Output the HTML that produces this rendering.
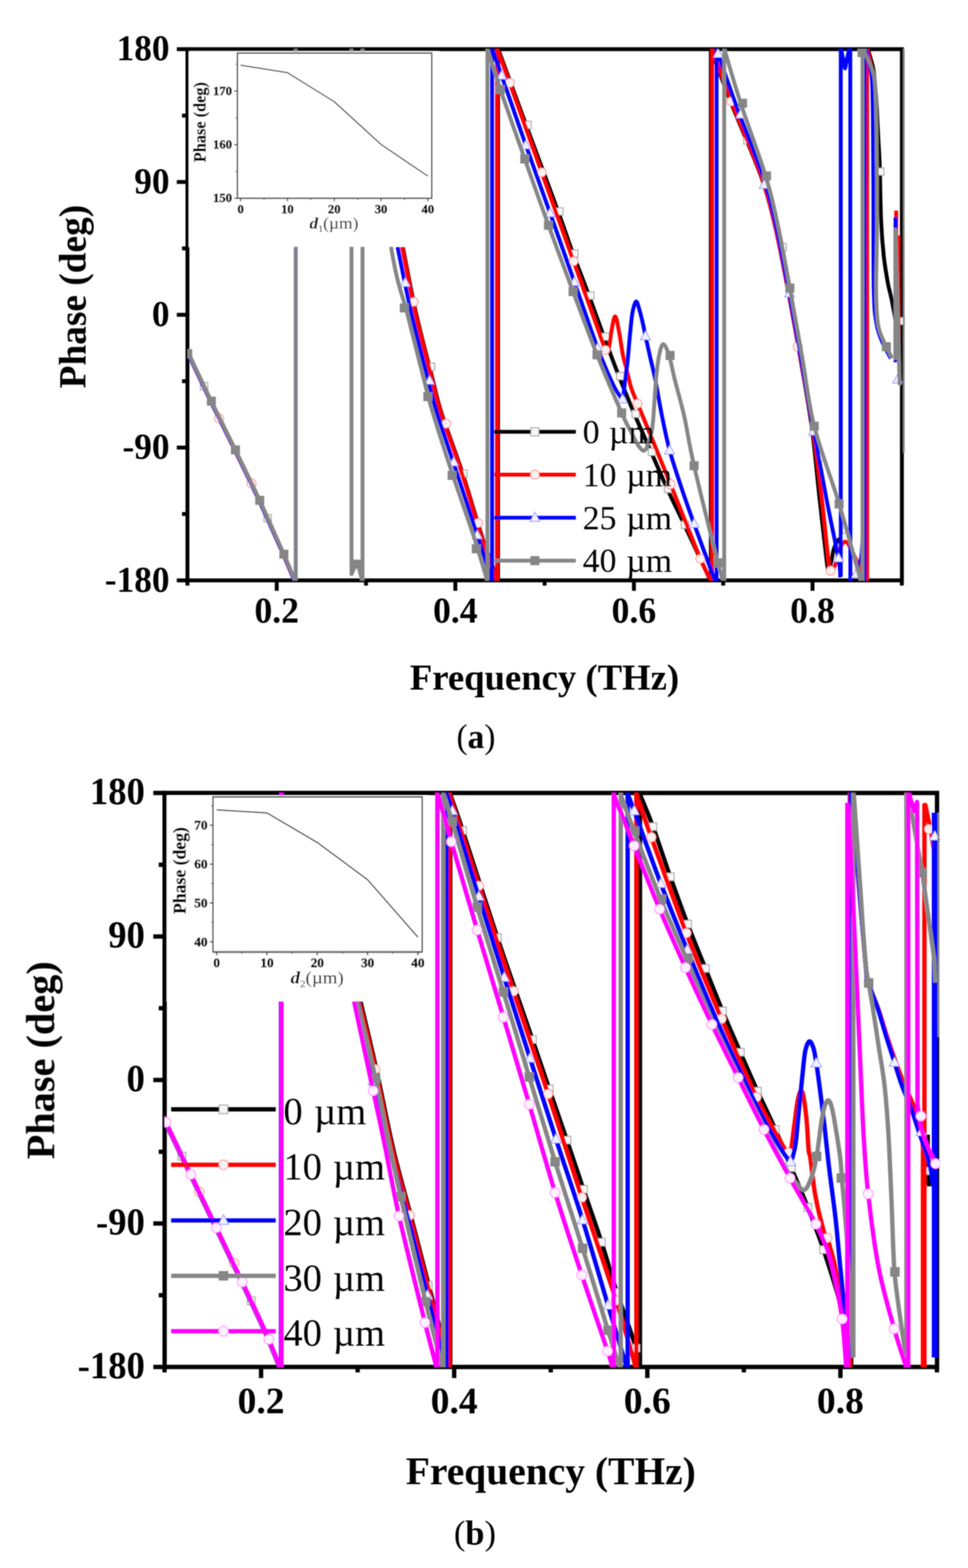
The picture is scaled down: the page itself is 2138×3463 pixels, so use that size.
<!DOCTYPE html>
<html lang="en"><head><meta charset="utf-8"><title>Phase vs Frequency</title>
<style>
html,body{margin:0;padding:0;background:#fff;}
body{width:2138px;height:3463px;overflow:hidden;}
svg{display:block;}
text{font-family:"Liberation Serif",serif;fill:#000;}
.b{font-weight:bold;}
.i{font-style:italic;}
</style></head><body>
<svg width="2138" height="3463" viewBox="0 0 2138 3463">
<defs><filter id="soft" x="0" y="0" width="2138" height="3463" filterUnits="userSpaceOnUse"><feGaussianBlur stdDeviation="0.85"/></filter></defs>
<rect width="2138" height="3463" fill="#fff"/>
<g filter="url(#soft)">
<g id="chartA">
<rect x="414.0" y="108.6" width="1578.0" height="1173.2" fill="none" stroke="#000" stroke-width="8.6"/>
<line x1="390.5" y1="108.6" x2="414.0" y2="108.6" stroke="#000" stroke-width="8.6"/>
<line x1="390.5" y1="401.9" x2="414.0" y2="401.9" stroke="#000" stroke-width="8.6"/>
<line x1="390.5" y1="695.2" x2="414.0" y2="695.2" stroke="#000" stroke-width="8.6"/>
<line x1="390.5" y1="988.5" x2="414.0" y2="988.5" stroke="#000" stroke-width="8.6"/>
<line x1="390.5" y1="1281.8" x2="414.0" y2="1281.8" stroke="#000" stroke-width="8.6"/>
<line x1="402" y1="255.3" x2="414.0" y2="255.3" stroke="#000" stroke-width="8.6"/>
<line x1="402" y1="548.6" x2="414.0" y2="548.6" stroke="#000" stroke-width="8.6"/>
<line x1="402" y1="841.9" x2="414.0" y2="841.9" stroke="#000" stroke-width="8.6"/>
<line x1="402" y1="1135.2" x2="414.0" y2="1135.2" stroke="#000" stroke-width="8.6"/>
<line x1="611.2" y1="1281.8" x2="611.2" y2="1304.8" stroke="#000" stroke-width="8.6"/>
<line x1="1005.7" y1="1281.8" x2="1005.7" y2="1304.8" stroke="#000" stroke-width="8.6"/>
<line x1="1400.1" y1="1281.8" x2="1400.1" y2="1304.8" stroke="#000" stroke-width="8.6"/>
<line x1="1794.6" y1="1281.8" x2="1794.6" y2="1304.8" stroke="#000" stroke-width="8.6"/>
<line x1="414" y1="1281.8" x2="414" y2="1293.3" stroke="#000" stroke-width="8.6"/>
<line x1="808.4" y1="1281.8" x2="808.4" y2="1293.3" stroke="#000" stroke-width="8.6"/>
<line x1="1202.9" y1="1281.8" x2="1202.9" y2="1293.3" stroke="#000" stroke-width="8.6"/>
<line x1="1597.3" y1="1281.8" x2="1597.3" y2="1293.3" stroke="#000" stroke-width="8.6"/>
<line x1="1991.8" y1="1281.8" x2="1991.8" y2="1293.3" stroke="#000" stroke-width="8.6"/>
<clipPath id="clipA"><rect x="414.0" y="108.0" width="1585.0" height="1174.4"/></clipPath>
<g clip-path="url(#clipA)">
<path d="M413.2,775.6 C422,794.1 448.3,850.2 466,886.6 C483.7,923 501.4,957.7 519.2,994.2 C537,1030.7 555,1067.2 572.8,1105.6 C590.6,1144 613.2,1195.1 626.2,1224.6 C639.2,1254.1 646.6,1272.9 650.7,1282.6" fill="none" stroke="#000" stroke-width="8.6" stroke-linejoin="round" />
<path d="M889.5,545 C894.5,569.8 908.5,645.3 919.5,694 C930.5,742.7 946.3,801 955.5,837 C964.7,873 963.6,875.7 974.5,910 C985.4,944.3 1005.9,997 1021,1043 C1036.1,1089 1052,1146.2 1065,1186 C1078,1225.8 1093.3,1266 1099,1282" fill="none" stroke="#000" stroke-width="8.6" stroke-linejoin="round" />
<path d="M1100,1284.8 L1100,105.6" fill="none" stroke="#000" stroke-width="8.6" stroke-linejoin="round" />
<path d="M1100.5,108.5 C1110.8,136.4 1140,216.2 1162,276 C1184,335.8 1215.4,419.7 1232.7,467 C1250,514.3 1254.2,529 1265.6,560 C1277,591 1289.6,622.4 1301,653 C1312.4,683.6 1323,714 1334,743.6 C1345,773.2 1355.8,802.3 1367,830.7 C1378.2,859.1 1389.2,886.1 1401,914 C1412.8,941.9 1425.8,970.3 1438,998 C1450.2,1025.7 1461.8,1053.2 1474,1080 C1486.2,1106.8 1495.7,1125.3 1511.5,1159 C1527.3,1192.7 1559.4,1261.5 1569,1282" fill="none" stroke="#000" stroke-width="8.6" stroke-linejoin="round" />
<path d="M1570,1284.8 L1570,105.6" fill="none" stroke="#000" stroke-width="8.6" stroke-linejoin="round" />
<path d="M1570,108.5 C1577.5,128.4 1596.6,181.3 1615,228 C1633.4,274.7 1664.3,343.3 1680.5,388.6 C1696.7,433.9 1702.1,458.3 1712,500 C1721.9,541.7 1730.7,590.2 1740,639 C1749.3,687.8 1759.2,742.2 1768,793 C1776.8,843.8 1786,892.8 1793,944 C1800,995.2 1804.5,1050.7 1810,1100 C1815.5,1149.3 1822.7,1214 1826,1240 C1829.3,1266 1828.3,1256 1830,1256 C1831.7,1256 1834.2,1246.8 1836,1240 C1837.8,1233.2 1838.8,1222.3 1841,1215 C1843.2,1207.7 1846.2,1200.5 1849,1196 C1851.8,1191.5 1855,1189.7 1858,1188 C1861,1186.3 1862,1178.7 1867,1186 C1872,1193.3 1880.2,1216 1888,1232 C1895.8,1248 1909.7,1273.7 1914,1282" fill="none" stroke="#000" stroke-width="8.6" stroke-linejoin="round" />
<path d="M1916.7,108 C1918.7,115.2 1925.9,137.2 1928.6,151 C1931.3,164.8 1931.7,176.4 1933,191 C1934.3,205.6 1935.4,220.2 1936.5,238.7 C1937.6,257.2 1938.6,280.8 1939.7,302 C1940.8,323.2 1942,334.9 1943,365.7 C1944,396.5 1944.5,453.6 1946,487 C1947.5,520.4 1949.5,543 1952,566 C1954.5,589 1958.2,609.3 1961,625 C1963.8,640.7 1965.8,644.2 1969,660 C1972.2,675.8 1976.3,696.7 1980,720 C1983.7,743.3 1989.2,786.7 1991,800" fill="none" stroke="#000" stroke-width="8.6" stroke-linejoin="round" />
<rect x="442.6" y="844.9" width="16.2" height="16.2" fill="#f6f6f6" stroke="#888" stroke-width="2" stroke-opacity="0.8"/>
<rect x="582.9" y="1136.5" width="16.2" height="16.2" fill="#f6f6f6" stroke="#888" stroke-width="2" stroke-opacity="0.8"/>
<rect x="943.9" y="801.9" width="16.2" height="16.2" fill="#f6f6f6" stroke="#888" stroke-width="2" stroke-opacity="0.8"/>
<rect x="1015.5" y="1037.9" width="16.2" height="16.2" fill="#f6f6f6" stroke="#888" stroke-width="2" stroke-opacity="0.8"/>
<rect x="1156.9" y="267.9" width="16.2" height="16.2" fill="#f6f6f6" stroke="#888" stroke-width="2" stroke-opacity="0.8"/>
<rect x="1227.6" y="458.9" width="16.2" height="16.2" fill="#f6f6f6" stroke="#888" stroke-width="2" stroke-opacity="0.8"/>
<rect x="1260.5" y="551.9" width="16.2" height="16.2" fill="#f6f6f6" stroke="#888" stroke-width="2" stroke-opacity="0.8"/>
<rect x="1295.9" y="644.9" width="16.2" height="16.2" fill="#f6f6f6" stroke="#888" stroke-width="2" stroke-opacity="0.8"/>
<rect x="1328.9" y="735.5" width="16.2" height="16.2" fill="#f6f6f6" stroke="#888" stroke-width="2" stroke-opacity="0.8"/>
<rect x="1361.9" y="822.6" width="16.2" height="16.2" fill="#f6f6f6" stroke="#888" stroke-width="2" stroke-opacity="0.8"/>
<rect x="1395.9" y="905.9" width="16.2" height="16.2" fill="#f6f6f6" stroke="#888" stroke-width="2" stroke-opacity="0.8"/>
<rect x="1431.9" y="989.9" width="16.2" height="16.2" fill="#f6f6f6" stroke="#888" stroke-width="2" stroke-opacity="0.8"/>
<rect x="1467.6" y="1071.9" width="16.2" height="16.2" fill="#f6f6f6" stroke="#888" stroke-width="2" stroke-opacity="0.8"/>
<rect x="1504.9" y="1150.9" width="16.2" height="16.2" fill="#f6f6f6" stroke="#888" stroke-width="2" stroke-opacity="0.8"/>
<rect x="1642.6" y="301.9" width="16.2" height="16.2" fill="#f6f6f6" stroke="#888" stroke-width="2" stroke-opacity="0.8"/>
<rect x="1720.5" y="537.9" width="16.2" height="16.2" fill="#f6f6f6" stroke="#888" stroke-width="2" stroke-opacity="0.8"/>
<rect x="1803.9" y="1001.9" width="16.2" height="16.2" fill="#f6f6f6" stroke="#888" stroke-width="2" stroke-opacity="0.8"/>
<rect x="1858.9" y="1177.9" width="16.2" height="16.2" fill="#f6f6f6" stroke="#888" stroke-width="2" stroke-opacity="0.8"/>
<rect x="1935.9" y="370.9" width="16.2" height="16.2" fill="#f6f6f6" stroke="#888" stroke-width="2" stroke-opacity="0.8"/>
<rect x="1983.4" y="700.9" width="16.2" height="16.2" fill="#f6f6f6" stroke="#888" stroke-width="2" stroke-opacity="0.8"/>
<path d="M412.4,775.4 C421.2,793.9 447.5,850 465.2,886.4 C482.9,922.8 500.6,957.5 518.4,994 C536.2,1030.5 554.2,1067 572,1105.4 C589.8,1143.8 612.4,1194.9 625.4,1224.4 C638.4,1253.9 645.8,1272.7 649.9,1282.4" fill="none" stroke="#ff0000" stroke-width="8.6" stroke-linejoin="round" />
<path d="M888,545 C893,569.8 907,645.3 918,694 C929,742.7 944.8,801 954,837 C963.2,873 962.1,875.7 973,910 C983.9,944.3 1004.4,997 1019.5,1043 C1034.6,1089 1050.6,1146.2 1063.5,1186 C1076.4,1225.8 1091.4,1266 1097,1282" fill="none" stroke="#ff0000" stroke-width="8.6" stroke-linejoin="round" />
<path d="M1097.7,1284.8 L1097.7,105.6" fill="none" stroke="#ff0000" stroke-width="8.6" stroke-linejoin="round" />
<path d="M1098,108.5 C1102.6,120.9 1109.3,137.6 1125.7,183 C1142.1,228.4 1172.9,315 1196.4,380.7 C1219.9,446.4 1246.2,519.6 1266.8,577 C1287.4,634.4 1308.3,692.7 1320,725 C1331.7,757.3 1333,763.2 1337,771 C1341,778.8 1341.7,778.8 1344,772 C1346.3,765.2 1348.3,742.2 1350.7,730 C1353.1,717.8 1355.9,698.6 1358.6,698.6 C1361.3,698.6 1363.9,715.8 1366.8,730 C1369.7,744.2 1373,769.9 1375.7,783.6 C1378.4,797.3 1380,800.1 1383,812 C1386,823.9 1389.4,841.8 1393.6,855 C1397.8,868.2 1403.3,879.7 1408,891.4 C1412.7,903.1 1409.8,895.3 1422,925 C1434.2,954.7 1460.2,1018.1 1481,1069.6 C1501.8,1121.1 1532,1198.6 1547,1234 C1562,1269.4 1567,1274 1571,1282" fill="none" stroke="#ff0000" stroke-width="8.6" stroke-linejoin="round" />
<path d="M1572.7,1284.8 L1572.7,105.6" fill="none" stroke="#ff0000" stroke-width="8.6" stroke-linejoin="round" />
<path d="M1573,108.5 C1580.3,128.4 1598.9,181.3 1617,228 C1635.1,274.7 1665.6,343.3 1681.5,388.6 C1697.4,433.9 1702.8,458.3 1712.6,500 C1722.4,541.7 1731.2,590.2 1740.5,639 C1749.8,687.8 1759.4,742.2 1768.5,793 C1777.6,843.8 1787.2,892.8 1795,944 C1802.8,995.2 1809,1049 1815,1100 C1821,1151 1827.7,1223 1831,1250 C1834.3,1277 1832.5,1263 1835,1262 C1837.5,1261 1842.5,1252.7 1846,1244 C1849.5,1235.3 1852.7,1218 1856,1210 C1859.3,1202 1862.7,1196.8 1866,1196 C1869.3,1195.2 1872.2,1199.2 1876,1205 C1879.8,1210.8 1882.1,1218.2 1888.6,1231 C1895.1,1243.8 1910.6,1273.5 1915,1282" fill="none" stroke="#ff0000" stroke-width="8.6" stroke-linejoin="round" />
<path d="M1916,1284.8 L1916,105.6" fill="none" stroke="#ff0000" stroke-width="6.9" stroke-linejoin="round" />
<path d="M1917,108 C1918.5,115 1923.7,134.7 1926,150 C1928.3,165.3 1929.8,175 1931,200 C1932.2,225 1932.5,250 1933,300 C1933.5,350 1933.8,443.3 1934,500 C1934.2,556.7 1934,616.7 1934,640" fill="none" stroke="#ff0000" stroke-width="5" stroke-linejoin="round" />
<path d="M1979.4,465 L1979.4,800" fill="none" stroke="#ff0000" stroke-width="8.6" stroke-linejoin="round" />
<path d="M1985.5,520 L1986.6,830" fill="none" stroke="#ff0000" stroke-width="5" stroke-linejoin="round" />
<circle cx="484" cy="924" r="10" fill="#fff0f0" stroke="#ff6060" stroke-width="1.5" stroke-opacity="0.9"/>
<circle cx="555.7" cy="1068" r="10" fill="#fff0f0" stroke="#ff6060" stroke-width="1.5" stroke-opacity="0.9"/>
<circle cx="913.6" cy="666.8" r="10" fill="#fff0f0" stroke="#ff6060" stroke-width="1.5" stroke-opacity="0.9"/>
<circle cx="985" cy="935.7" r="10" fill="#fff0f0" stroke="#ff6060" stroke-width="1.5" stroke-opacity="0.9"/>
<circle cx="1055.7" cy="1155" r="10" fill="#fff0f0" stroke="#ff6060" stroke-width="1.5" stroke-opacity="0.9"/>
<circle cx="1125.7" cy="183" r="10" fill="#fff0f0" stroke="#ff6060" stroke-width="1.5" stroke-opacity="0.9"/>
<circle cx="1196.4" cy="380.7" r="10" fill="#fff0f0" stroke="#ff6060" stroke-width="1.5" stroke-opacity="0.9"/>
<circle cx="1266.8" cy="577" r="10" fill="#fff0f0" stroke="#ff6060" stroke-width="1.5" stroke-opacity="0.9"/>
<circle cx="1337" cy="773" r="10" fill="#fff0f0" stroke="#ff6060" stroke-width="1.5" stroke-opacity="0.9"/>
<circle cx="1408" cy="891.4" r="10" fill="#fff0f0" stroke="#ff6060" stroke-width="1.5" stroke-opacity="0.9"/>
<circle cx="1481" cy="1069.6" r="10" fill="#fff0f0" stroke="#ff6060" stroke-width="1.5" stroke-opacity="0.9"/>
<circle cx="1547" cy="1234" r="10" fill="#fff0f0" stroke="#ff6060" stroke-width="1.5" stroke-opacity="0.9"/>
<circle cx="1615" cy="224" r="10" fill="#fff0f0" stroke="#ff6060" stroke-width="1.5" stroke-opacity="0.9"/>
<circle cx="1762" cy="765.7" r="10" fill="#fff0f0" stroke="#ff6060" stroke-width="1.5" stroke-opacity="0.9"/>
<circle cx="1834.6" cy="1260" r="10" fill="#fff0f0" stroke="#ff6060" stroke-width="1.5" stroke-opacity="0.9"/>
<path d="M413,775.8 C421.8,794.3 448.1,850.4 465.8,886.8 C483.5,923.2 501.2,957.9 519,994.4 C536.8,1030.9 554.8,1067.4 572.6,1105.8 C590.4,1144.2 613,1195.3 626,1224.8 C639,1254.3 646.4,1273.1 650.5,1282.8" fill="none" stroke="#0000ff" stroke-width="8.6" stroke-linejoin="round" />
<path d="M878,545 C883.2,569.8 897.8,645.3 909,694 C920.2,742.7 935.8,801 945,837 C954.2,873 953.9,875.7 964.5,910 C975.1,944.3 993.3,997 1008.5,1043 C1023.7,1089 1042.8,1146.2 1055.7,1186 C1068.6,1225.8 1081,1266 1086,1282" fill="none" stroke="#0000ff" stroke-width="8.6" stroke-linejoin="round" />
<path d="M1086.8,1284.8 L1086.8,105.6" fill="none" stroke="#0000ff" stroke-width="8.6" stroke-linejoin="round" />
<path d="M1087,108.5 C1090.5,118.2 1095.6,131.6 1108,167 C1120.4,202.4 1143.6,270.1 1161.4,320.7 C1179.2,371.3 1197.1,420.3 1215,470.7 C1232.9,521.1 1251.1,573.3 1268.6,623 C1286.1,672.7 1306.1,732 1320,769 C1333.9,806 1344,827.7 1352,845 C1360,862.3 1364,867.7 1368,873 C1372,878.3 1373.5,883 1375.7,877 C1377.9,871 1379.2,850.7 1381,837 C1382.8,823.3 1384.6,812 1386.4,795 C1388.2,778 1390,752.5 1391.8,735 C1393.6,717.5 1394.8,701.5 1397,690 C1399.2,678.5 1402.3,666.2 1405,665.7 C1407.7,665.2 1410.5,678.8 1413,687 C1415.5,695.2 1417.9,705.8 1420,715 C1422.1,724.2 1423,729.9 1425.7,742.5 C1428.4,755.1 1432.9,775 1436.4,790.7 C1440,806.5 1442.8,816.3 1447,837 C1451.2,857.7 1456.1,888.7 1461.4,915 C1466.7,941.3 1471.6,967.1 1479,994.6 C1486.4,1022.1 1497,1052.9 1506,1080 C1515,1107.1 1520.8,1123.3 1533,1157 C1545.2,1190.7 1571.3,1261.2 1579,1282" fill="none" stroke="#0000ff" stroke-width="8.6" stroke-linejoin="round" />
<path d="M1582.7,1284.8 L1582.7,105.6" fill="none" stroke="#0000ff" stroke-width="8.6" stroke-linejoin="round" />
<path d="M1583,108.5 C1589.8,128.4 1607,181.3 1624,228 C1641,274.7 1669.9,343.3 1685,388.6 C1700.1,433.9 1705.2,458.4 1714.6,500 C1724,541.6 1732.3,589.3 1741.5,638 C1750.7,686.7 1760.4,741.2 1769.5,792 C1778.6,842.8 1786.8,891.7 1796,943 C1805.2,994.3 1815.7,1051.3 1825,1100 C1834.3,1148.7 1846.8,1205.8 1852,1235 C1857.2,1264.2 1855.3,1268.3 1856,1275" fill="none" stroke="#0000ff" stroke-width="8.6" stroke-linejoin="round" />
<path d="M1857,1273 L1857,105.6 L1866.5,151 L1876,105.6 L1878,105.6 L1878.2,1284.8" fill="none" stroke="#0000ff" stroke-width="8.6" stroke-linejoin="round" stroke-linejoin="miter"/>
<path d="M1879,1282 C1879.8,1280 1881.6,1273.8 1884,1270 C1886.4,1266.2 1890.4,1270.7 1893.6,1259 C1896.8,1247.3 1900.3,1243.2 1903,1200 C1905.7,1156.8 1908.8,1033.3 1910,1000" fill="none" stroke="#0000ff" stroke-width="5" stroke-linejoin="round" />
<path d="M1911,1284.8 L1911,105.6" fill="none" stroke="#0000ff" stroke-width="5" stroke-linejoin="round" />
<path d="M1912,108 C1913.7,115 1919.5,134.7 1922,150 C1924.5,165.3 1925.8,158.3 1927,200 C1928.2,241.7 1928.5,326.7 1929,400 C1929.5,473.3 1928.8,587.5 1930,640 C1931.2,692.5 1932.8,695.7 1936,715 C1939.2,734.3 1943.7,743.2 1949,756 C1954.3,768.8 1964.8,786 1968,792" fill="none" stroke="#0000ff" stroke-width="8.6" stroke-linejoin="round" />
<path d="M1978,480 L1978,800" fill="none" stroke="#0000ff" stroke-width="8.6" stroke-linejoin="round" />
<path d="M895,612.5 L906,632.7 L884,632.7 Z" fill="#f0f0ff" stroke="#7070ff" stroke-width="1.5" stroke-opacity="0.9"/>
<path d="M948.6,828.6 L959.6,848.8 L937.6,848.8 Z" fill="#f0f0ff" stroke="#7070ff" stroke-width="1.5" stroke-opacity="0.9"/>
<path d="M1002,1008.9 L1013,1029.1 L991,1029.1 Z" fill="#f0f0ff" stroke="#7070ff" stroke-width="1.5" stroke-opacity="0.9"/>
<path d="M1054,1169.9 L1065,1190.1 L1043,1190.1 Z" fill="#f0f0ff" stroke="#7070ff" stroke-width="1.5" stroke-opacity="0.9"/>
<path d="M1108,154.9 L1119,175.1 L1097,175.1 Z" fill="#f0f0ff" stroke="#7070ff" stroke-width="1.5" stroke-opacity="0.9"/>
<path d="M1161.4,308.6 L1172.4,328.8 L1150.4,328.8 Z" fill="#f0f0ff" stroke="#7070ff" stroke-width="1.5" stroke-opacity="0.9"/>
<path d="M1215,458.6 L1226,478.8 L1204,478.8 Z" fill="#f0f0ff" stroke="#7070ff" stroke-width="1.5" stroke-opacity="0.9"/>
<path d="M1268.6,610.9 L1279.6,631.1 L1257.6,631.1 Z" fill="#f0f0ff" stroke="#7070ff" stroke-width="1.5" stroke-opacity="0.9"/>
<path d="M1320,756.9 L1331,777.1 L1309,777.1 Z" fill="#f0f0ff" stroke="#7070ff" stroke-width="1.5" stroke-opacity="0.9"/>
<path d="M1375,869.9 L1386,890.1 L1364,890.1 Z" fill="#f0f0ff" stroke="#7070ff" stroke-width="1.5" stroke-opacity="0.9"/>
<path d="M1425.7,730.4 L1436.7,750.6 L1414.7,750.6 Z" fill="#f0f0ff" stroke="#7070ff" stroke-width="1.5" stroke-opacity="0.9"/>
<path d="M1479,982.5 L1490,1002.7 L1468,1002.7 Z" fill="#f0f0ff" stroke="#7070ff" stroke-width="1.5" stroke-opacity="0.9"/>
<path d="M1533,1144.9 L1544,1165.1 L1522,1165.1 Z" fill="#f0f0ff" stroke="#7070ff" stroke-width="1.5" stroke-opacity="0.9"/>
<path d="M1586,106.9 L1597,127.1 L1575,127.1 Z" fill="#f0f0ff" stroke="#7070ff" stroke-width="1.5" stroke-opacity="0.9"/>
<path d="M1635.7,240.9 L1646.7,261.1 L1624.7,261.1 Z" fill="#f0f0ff" stroke="#7070ff" stroke-width="1.5" stroke-opacity="0.9"/>
<path d="M1688,395.9 L1699,416.1 L1677,416.1 Z" fill="#f0f0ff" stroke="#7070ff" stroke-width="1.5" stroke-opacity="0.9"/>
<path d="M1744,635.9 L1755,656.1 L1733,656.1 Z" fill="#f0f0ff" stroke="#7070ff" stroke-width="1.5" stroke-opacity="0.9"/>
<path d="M1797,940.9 L1808,961.1 L1786,961.1 Z" fill="#f0f0ff" stroke="#7070ff" stroke-width="1.5" stroke-opacity="0.9"/>
<path d="M1852,1220.6 L1863,1240.8 L1841,1240.8 Z" fill="#f0f0ff" stroke="#7070ff" stroke-width="1.5" stroke-opacity="0.9"/>
<path d="M1891,1255.9 L1902,1276.1 L1880,1276.1 Z" fill="#f0f0ff" stroke="#7070ff" stroke-width="1.5" stroke-opacity="0.9"/>
<path d="M1983,825.9 L1994,846.1 L1972,846.1 Z" fill="#f0f0ff" stroke="#7070ff" stroke-width="1.5" stroke-opacity="0.9"/>
<path d="M414,775 C422.8,793.5 449.1,849.6 466.8,886 C484.5,922.4 502.2,957.1 520,993.6 C537.8,1030.1 555.8,1066.6 573.6,1105 C591.4,1143.4 614,1194.5 627,1224 C640,1253.5 647.4,1272.3 651.5,1282" fill="none" stroke="#868686" stroke-width="8.6" stroke-linejoin="round" />
<path d="M653.2,1284.8 L653.2,105.6" fill="none" stroke="#80808c" stroke-width="8.6" stroke-linejoin="round" />
<path d="M776.4,105.6 L776.4,1268 L785,1248 L791,1248 L800.7,1284.8 L800.7,105.6" fill="none" stroke="#868686" stroke-width="8.6" stroke-linejoin="round" />
<path d="M800.7,108.5 C811.2,181.2 847.1,447.4 863.6,545 C880.1,642.6 887.9,645.3 900,694 C912.1,742.7 926.8,801 936,837 C945.2,873 945.2,875.7 955.5,910 C965.8,944.3 982.8,997 998,1043 C1013.2,1089 1033.8,1146.2 1046.8,1186 C1059.8,1225.8 1071.1,1266 1076,1282" fill="none" stroke="#868686" stroke-width="8.6" stroke-linejoin="round" />
<path d="M1076.6,1284.8 L1076.6,105.6" fill="none" stroke="#868686" stroke-width="8.6" stroke-linejoin="round" />
<path d="M1077,108.5 C1081.7,123.3 1091.3,157.1 1105,197.5 C1118.7,237.9 1141.3,301 1159,351 C1176.7,401 1193.6,448.7 1211.4,497.5 C1229.2,546.3 1247.8,596.3 1265.7,644 C1283.6,691.7 1300.7,738.9 1318.6,783.6 C1336.5,828.3 1360.5,883.7 1373,912 C1385.5,940.3 1387.3,941.3 1393.6,953.6 C1399.9,965.9 1405.9,978.9 1411,985.7 C1416.1,992.5 1420.1,997.1 1424,994.6 C1427.9,992.1 1431.6,980.8 1434.6,971 C1437.6,961.2 1439.4,958 1441.8,935.7 C1444.2,913.4 1446.6,862.4 1449,837 C1451.4,811.6 1453.3,796.4 1456,783.6 C1458.7,770.8 1461.4,760 1465,760 C1468.6,760 1473.3,770.8 1477.5,783.6 C1481.7,796.4 1484.3,814.3 1490,837 C1495.7,859.7 1504.2,888.1 1511.4,920 C1518.6,951.9 1520.6,974.8 1533,1028.6 C1545.4,1082.4 1575,1200.8 1585.7,1243 C1596.4,1285.2 1595.1,1275.5 1597,1282" fill="none" stroke="#868686" stroke-width="8.6" stroke-linejoin="round" />
<path d="M1599.5,1284.8 L1599.5,105.6" fill="none" stroke="#868686" stroke-width="8.6" stroke-linejoin="round" />
<path d="M1600,108.5 C1606,128.4 1620.8,181.3 1636,228 C1651.2,274.7 1677.2,343.3 1691,388.6 C1704.8,433.9 1709.7,458.7 1718.6,500 C1727.5,541.3 1735.6,588 1744.5,636.3 C1753.4,684.6 1763,739.2 1772,790 C1781,840.8 1784.8,887.5 1798.4,941.3 C1812,995.1 1836.3,1056.2 1853.4,1113 C1870.5,1169.8 1893.1,1253.8 1901,1282" fill="none" stroke="#868686" stroke-width="8.6" stroke-linejoin="round" />
<path d="M1905,1284.8 L1905,105.6" fill="none" stroke="#868686" stroke-width="8.6" stroke-linejoin="round" />
<path d="M1906,108 C1909.2,115 1920.5,136.2 1925,150 C1929.5,163.8 1931.2,166 1933,191 C1934.8,216 1935.3,248.5 1936,300 C1936.7,351.5 1937.2,443.3 1937,500 C1936.8,556.7 1934.7,604.2 1935,640 C1935.3,675.8 1936.3,696.2 1939,715 C1941.7,733.8 1946.2,740.4 1951.4,753 C1956.6,765.6 1966.9,784.5 1970,790.8" fill="none" stroke="#868686" stroke-width="8.6" stroke-linejoin="round" />
<path d="M1977.8,795 L1977.8,507 L1987,851" fill="none" stroke="#868686" stroke-width="8.6" stroke-linejoin="round" />
<path d="M1996.2,105.6 L1996.2,1000" fill="none" stroke="#868686" stroke-width="3.8" stroke-linejoin="round" />
<rect x="404.5" y="771" width="20" height="20" fill="#868686" stroke="#868686" stroke-width="0" stroke-opacity="1"/>
<rect x="456.8" y="876" width="20" height="20" fill="#868686" stroke="#868686" stroke-width="0" stroke-opacity="1"/>
<rect x="510" y="983.6" width="20" height="20" fill="#868686" stroke="#868686" stroke-width="0" stroke-opacity="1"/>
<rect x="563.6" y="1095" width="20" height="20" fill="#868686" stroke="#868686" stroke-width="0" stroke-opacity="1"/>
<rect x="617" y="1214" width="20" height="20" fill="#868686" stroke="#868686" stroke-width="0" stroke-opacity="1"/>
<rect x="778" y="1236" width="20" height="20" fill="#868686" stroke="#868686" stroke-width="0" stroke-opacity="1"/>
<rect x="883" y="670" width="20" height="20" fill="#868686" stroke="#868686" stroke-width="0" stroke-opacity="1"/>
<rect x="935" y="866" width="20" height="20" fill="#868686" stroke="#868686" stroke-width="0" stroke-opacity="1"/>
<rect x="988.6" y="1040" width="20" height="20" fill="#868686" stroke="#868686" stroke-width="0" stroke-opacity="1"/>
<rect x="1042" y="1202" width="20" height="20" fill="#868686" stroke="#868686" stroke-width="0" stroke-opacity="1"/>
<rect x="1095" y="187.5" width="20" height="20" fill="#868686" stroke="#868686" stroke-width="0" stroke-opacity="1"/>
<rect x="1149" y="341" width="20" height="20" fill="#868686" stroke="#868686" stroke-width="0" stroke-opacity="1"/>
<rect x="1201.4" y="487.5" width="20" height="20" fill="#868686" stroke="#868686" stroke-width="0" stroke-opacity="1"/>
<rect x="1255.7" y="634" width="20" height="20" fill="#868686" stroke="#868686" stroke-width="0" stroke-opacity="1"/>
<rect x="1308.6" y="773.6" width="20" height="20" fill="#868686" stroke="#868686" stroke-width="0" stroke-opacity="1"/>
<rect x="1363" y="902" width="20" height="20" fill="#868686" stroke="#868686" stroke-width="0" stroke-opacity="1"/>
<rect x="1470" y="775" width="20" height="20" fill="#868686" stroke="#868686" stroke-width="0" stroke-opacity="1"/>
<rect x="1523" y="1018.6" width="20" height="20" fill="#868686" stroke="#868686" stroke-width="0" stroke-opacity="1"/>
<rect x="1575.7" y="1233" width="20" height="20" fill="#868686" stroke="#868686" stroke-width="0" stroke-opacity="1"/>
<rect x="1630" y="218" width="20" height="20" fill="#868686" stroke="#868686" stroke-width="0" stroke-opacity="1"/>
<rect x="1683" y="378.6" width="20" height="20" fill="#868686" stroke="#868686" stroke-width="0" stroke-opacity="1"/>
<rect x="1734.5" y="626.3" width="20" height="20" fill="#868686" stroke="#868686" stroke-width="0" stroke-opacity="1"/>
<rect x="1788.4" y="931.3" width="20" height="20" fill="#868686" stroke="#868686" stroke-width="0" stroke-opacity="1"/>
<rect x="1843.4" y="1103" width="20" height="20" fill="#868686" stroke="#868686" stroke-width="0" stroke-opacity="1"/>
<rect x="1894" y="106" width="20" height="20" fill="#868686" stroke="#868686" stroke-width="0" stroke-opacity="1"/>
<rect x="1947.7" y="755.7" width="20" height="20" fill="#868686" stroke="#868686" stroke-width="0" stroke-opacity="1"/>
</g>
<rect x="416.8" y="113.6" width="553" height="431.4" fill="#fff"/>
<rect x="524.3" y="117.2" width="429.30000000000007" height="320.7" fill="#fff" stroke="#3a3a3a" stroke-width="3"/>
<line x1="517.3" y1="437.9" x2="524.3" y2="437.9" stroke="#333" stroke-width="2.4"/>
<line x1="517.3" y1="319.5" x2="524.3" y2="319.5" stroke="#333" stroke-width="2.4"/>
<line x1="517.3" y1="201.1" x2="524.3" y2="201.1" stroke="#333" stroke-width="2.4"/>
<line x1="520.3" y1="378.7" x2="524.3" y2="378.7" stroke="#555" stroke-width="2"/>
<line x1="520.3" y1="260.3" x2="524.3" y2="260.3" stroke="#555" stroke-width="2"/>
<line x1="520.3" y1="141.9" x2="524.3" y2="141.9" stroke="#555" stroke-width="2"/>
<line x1="531.4" y1="437.9" x2="531.4" y2="444.9" stroke="#333" stroke-width="2.4"/>
<line x1="634.8" y1="437.9" x2="634.8" y2="444.9" stroke="#333" stroke-width="2.4"/>
<line x1="738.2" y1="437.9" x2="738.2" y2="444.9" stroke="#333" stroke-width="2.4"/>
<line x1="841.6" y1="437.9" x2="841.6" y2="444.9" stroke="#333" stroke-width="2.4"/>
<line x1="945" y1="437.9" x2="945" y2="444.9" stroke="#333" stroke-width="2.4"/>
<line x1="583.1" y1="437.9" x2="583.1" y2="441.9" stroke="#555" stroke-width="2"/>
<line x1="686.5" y1="437.9" x2="686.5" y2="441.9" stroke="#555" stroke-width="2"/>
<line x1="789.9" y1="437.9" x2="789.9" y2="441.9" stroke="#555" stroke-width="2"/>
<line x1="893.3" y1="437.9" x2="893.3" y2="441.9" stroke="#555" stroke-width="2"/>
<path d="M531.4,144 L634.8,160.5 L738.2,224.5 L841.6,319 L945,389" fill="none" stroke="#333" stroke-width="2.6" stroke-linejoin="round" />
<text transform="translate(512.3,446.4) scale(1.0500,1)" font-size="26.5" text-anchor="end" class="b" stroke="#000" stroke-width="1">150</text>
<text transform="translate(512.3,328) scale(1.0500,1)" font-size="26.5" text-anchor="end" class="b" stroke="#000" stroke-width="1">160</text>
<text transform="translate(512.3,209.6) scale(1.0500,1)" font-size="26.5" text-anchor="end" class="b" stroke="#000" stroke-width="1">170</text>
<text transform="translate(531.4,471) scale(1.0500,1)" font-size="26.5" text-anchor="middle" class="b" stroke="#000" stroke-width="1">0</text>
<text transform="translate(634.8,471) scale(1.0500,1)" font-size="26.5" text-anchor="middle" class="b" stroke="#000" stroke-width="1">10</text>
<text transform="translate(738.2,471) scale(1.0500,1)" font-size="26.5" text-anchor="middle" class="b" stroke="#000" stroke-width="1">20</text>
<text transform="translate(841.6,471) scale(1.0500,1)" font-size="26.5" text-anchor="middle" class="b" stroke="#000" stroke-width="1">30</text>
<text transform="translate(945,471) scale(1.0500,1)" font-size="26.5" text-anchor="middle" class="b" stroke="#000" stroke-width="1">40</text>
<text transform="translate(454.3,269.8) rotate(-90) scale(0.9600,1)" font-size="37.5" text-anchor="middle" class="b" stroke="#000" stroke-width="0.7">Phase (deg)</text>
<text transform="translate(737.5,505) scale(1.1000,1)" font-size="35" text-anchor="middle" ><tspan class="i b">d</tspan><tspan font-size="20" dy="7">1</tspan><tspan dy="-7">(µm)</tspan></text>
<line x1="1092" y1="953.6" x2="1271.8" y2="953.6" stroke="#000" stroke-width="8.4"/>
<rect x="1172.4" y="944.6" width="18" height="18" fill="#f6f6f6" stroke="#888" stroke-width="2" stroke-opacity="0.8"/>
<line x1="1092" y1="1048.2" x2="1271.8" y2="1048.2" stroke="#ff0000" stroke-width="8.4"/>
<circle cx="1181.4" cy="1048.2" r="10" fill="#fff0f0" stroke="#ff6060" stroke-width="1.5" stroke-opacity="0.9"/>
<line x1="1092" y1="1143.4" x2="1271.8" y2="1143.4" stroke="#0000ff" stroke-width="8.4"/>
<path d="M1181.4,1131.3 L1192.4,1151.5 L1170.4,1151.5 Z" fill="#f0f0ff" stroke="#7070ff" stroke-width="1.5" stroke-opacity="0.9"/>
<line x1="1092" y1="1238.2" x2="1271.8" y2="1238.2" stroke="#868686" stroke-width="8.4"/>
<rect x="1171.4" y="1228.2" width="20" height="20" fill="#868686" stroke="#868686" stroke-width="0" stroke-opacity="1"/>
<text transform="translate(1287,979) scale(0.9950,1)" font-size="75" text-anchor="start" >0 <tspan dx="2">µm</tspan></text>
<text transform="translate(1287,1074) scale(0.9950,1)" font-size="75" text-anchor="start" >10 <tspan dx="3">µm</tspan></text>
<text transform="translate(1287,1168.6) scale(0.9950,1)" font-size="75" text-anchor="start" >25 <tspan dx="3">µm</tspan></text>
<text transform="translate(1287,1262.6) scale(0.9950,1)" font-size="75" text-anchor="start" >40 <tspan dx="3">µm</tspan></text>
<text transform="translate(374.5,133.4) scale(0.9750,1)" font-size="80" text-anchor="end" class="b" >180</text>
<text transform="translate(374.5,426.7) scale(0.9750,1)" font-size="80" text-anchor="end" class="b" >90</text>
<text transform="translate(374.5,720) scale(0.9750,1)" font-size="80" text-anchor="end" class="b" >0</text>
<text transform="translate(374.5,1013.3) scale(0.9750,1)" font-size="80" text-anchor="end" class="b" >-90</text>
<text transform="translate(374.5,1306.6) scale(0.9750,1)" font-size="80" text-anchor="end" class="b" >-180</text>
<text transform="translate(611.2,1375.3) scale(0.9850,1)" font-size="80" text-anchor="middle" class="b" >0.2</text>
<text transform="translate(1005.7,1375.3) scale(0.9850,1)" font-size="80" text-anchor="middle" class="b" >0.4</text>
<text transform="translate(1400.1,1375.3) scale(0.9850,1)" font-size="80" text-anchor="middle" class="b" >0.6</text>
<text transform="translate(1794.6,1375.3) scale(0.9850,1)" font-size="80" text-anchor="middle" class="b" >0.8</text>
<text transform="translate(1202.6,1522.6)" font-size="81" text-anchor="middle" class="b" >Frequency (THz)</text>
<text transform="translate(189,655) rotate(-90) scale(0.9700,1)" font-size="85" text-anchor="middle" class="b" >Phase (deg)</text>
<text transform="translate(1051.3,1651.5) scale(0.9700,1)" font-size="76" text-anchor="middle" >(<tspan class="b">a</tspan>)</text>
</g>
<g id="chartB">
<rect x="363.6" y="1751.3" width="1706.0" height="1267.7" fill="none" stroke="#000" stroke-width="9.6"/>
<line x1="338.6" y1="1751.3" x2="363.6" y2="1751.3" stroke="#000" stroke-width="9.6"/>
<line x1="338.6" y1="2068.3" x2="363.6" y2="2068.3" stroke="#000" stroke-width="9.6"/>
<line x1="338.6" y1="2385.2" x2="363.6" y2="2385.2" stroke="#000" stroke-width="9.6"/>
<line x1="338.6" y1="2702.1" x2="363.6" y2="2702.1" stroke="#000" stroke-width="9.6"/>
<line x1="338.6" y1="3019" x2="363.6" y2="3019" stroke="#000" stroke-width="9.6"/>
<line x1="350.6" y1="1909.8" x2="363.6" y2="1909.8" stroke="#000" stroke-width="9.6"/>
<line x1="350.6" y1="2226.7" x2="363.6" y2="2226.7" stroke="#000" stroke-width="9.6"/>
<line x1="350.6" y1="2543.7" x2="363.6" y2="2543.7" stroke="#000" stroke-width="9.6"/>
<line x1="350.6" y1="2860.6" x2="363.6" y2="2860.6" stroke="#000" stroke-width="9.6"/>
<line x1="576.6" y1="3019.0" x2="576.6" y2="3043.5" stroke="#000" stroke-width="9.6"/>
<line x1="1003.1" y1="3019.0" x2="1003.1" y2="3043.5" stroke="#000" stroke-width="9.6"/>
<line x1="1429.7" y1="3019.0" x2="1429.7" y2="3043.5" stroke="#000" stroke-width="9.6"/>
<line x1="1856.2" y1="3019.0" x2="1856.2" y2="3043.5" stroke="#000" stroke-width="9.6"/>
<line x1="363.4" y1="3019.0" x2="363.4" y2="3031" stroke="#000" stroke-width="9.6"/>
<line x1="789.9" y1="3019.0" x2="789.9" y2="3031" stroke="#000" stroke-width="9.6"/>
<line x1="1216.4" y1="3019.0" x2="1216.4" y2="3031" stroke="#000" stroke-width="9.6"/>
<line x1="1642.9" y1="3019.0" x2="1642.9" y2="3031" stroke="#000" stroke-width="9.6"/>
<line x1="2069.4" y1="3019.0" x2="2069.4" y2="3031" stroke="#000" stroke-width="9.6"/>
<clipPath id="clipB"><rect x="363.6" y="1750.7" width="1713.0" height="1268.9"/></clipPath>
<g clip-path="url(#clipB)">
<path d="M362.6,2473 C363.1,2474 355.9,2459 365.6,2479.2 C375.3,2499.4 402,2555.4 420.6,2594.2 C439.2,2633 458.2,2672.4 477.1,2712 C496,2751.6 516.2,2793.9 534.2,2832 C552.2,2870.1 571,2909.3 584.9,2940.6 C598.8,2971.9 612.2,3006.4 617.7,3019.6" fill="none" stroke="#000" stroke-width="9.6" stroke-linejoin="round" />
<path d="M796,2211 C801.8,2236 818.8,2306.2 831,2361 C843.2,2415.8 856.3,2486.2 869,2540 C881.7,2593.8 894,2634.2 907,2684 C920,2733.8 932.5,2783.2 947,2839 C961.5,2894.8 986.2,2989 994,3019" fill="none" stroke="#000" stroke-width="9.6" stroke-linejoin="round" />
<path d="M994.5,3022 L994.5,1748.3" fill="none" stroke="#000" stroke-width="9.6" stroke-linejoin="round" />
<path d="M995,1756 C999.5,1769 1004.5,1781.5 1021.8,1834 C1039.1,1886.5 1072.9,1994 1098.6,2071 C1124.3,2148 1156.9,2240.3 1176,2296 C1195.1,2351.7 1200.3,2368 1213,2405 C1225.7,2442 1239.4,2481 1252,2518 C1264.6,2555 1275.8,2589.2 1288.6,2626.8 C1301.4,2664.4 1316.3,2705.7 1328.6,2743.6 C1340.9,2781.5 1349.8,2815 1362.5,2854 C1375.2,2893 1396.8,2950 1405,2977.5 C1413.2,3005 1410.8,3012.1 1412,3019" fill="none" stroke="#000" stroke-width="9.6" stroke-linejoin="round" />
<path d="M1413.5,3022 L1413.5,1748.3" fill="none" stroke="#000" stroke-width="9.6" stroke-linejoin="round" />
<path d="M1414,1756 C1418.7,1767.6 1430.9,1795.6 1442,1825.7 C1453.1,1855.8 1467.6,1900.5 1480.4,1936.4 C1493.2,1972.3 1505.7,2007.2 1518.6,2041 C1531.5,2074.8 1545.1,2107 1557.9,2139 C1570.8,2171 1582.9,2202.1 1595.7,2232.9 C1608.5,2263.7 1622.1,2294.5 1635,2324 C1647.9,2353.5 1660.1,2381.6 1673,2410 C1685.9,2438.4 1700.1,2466.4 1712.5,2494.6 C1724.9,2522.8 1735.7,2550.3 1747.6,2579 C1759.5,2607.7 1772.1,2636.3 1784,2666.5 C1795.9,2696.7 1806.5,2722.4 1819,2760 C1831.5,2797.6 1849,2848.8 1858.7,2892 C1868.4,2935.2 1874,2997.8 1877,3019" fill="none" stroke="#000" stroke-width="9.6" stroke-linejoin="round" />
<path d="M1880,3022 L1880,1748.3" fill="none" stroke="#000" stroke-width="9.6" stroke-linejoin="round" />
<path d="M1882,1756 C1886.8,1816.7 1904.7,2050.2 1911,2120 C1917.3,2189.8 1915,2156.3 1920,2175 C1925,2193.7 1934.3,2212 1941,2232 C1947.7,2252 1953.8,2275.3 1960,2295 C1966.2,2314.7 1972,2332.5 1978,2350 C1984,2367.5 1989,2382.5 1996,2400 C2003,2417.5 2012.7,2437.5 2020,2455 C2027.3,2472.5 2035.2,2487.5 2040,2505 C2044.8,2522.5 2047,2540.8 2049,2560 C2051,2579.2 2051.5,2610 2052,2620" fill="none" stroke="#000" stroke-width="9.6" stroke-linejoin="round" />
<path d="M2049,2506 L2049,2615" fill="none" stroke="#000" stroke-width="9.6" stroke-linejoin="round" />
<rect x="393.2" y="2545" width="17.1" height="17.1" fill="#f6f6f6" stroke="#888" stroke-width="2" stroke-opacity="0.8"/>
<rect x="546.5" y="2864.4" width="17.1" height="17.1" fill="#f6f6f6" stroke="#888" stroke-width="2" stroke-opacity="0.8"/>
<rect x="937.2" y="2830.4" width="17.1" height="17.1" fill="#f6f6f6" stroke="#888" stroke-width="2" stroke-opacity="0.8"/>
<rect x="1013.2" y="1825.5" width="17.1" height="17.1" fill="#f6f6f6" stroke="#888" stroke-width="2" stroke-opacity="0.8"/>
<rect x="1090" y="2062.4" width="17.1" height="17.1" fill="#f6f6f6" stroke="#888" stroke-width="2" stroke-opacity="0.8"/>
<rect x="1167.5" y="2287.4" width="17.1" height="17.1" fill="#f6f6f6" stroke="#888" stroke-width="2" stroke-opacity="0.8"/>
<rect x="1204.5" y="2396.4" width="17.1" height="17.1" fill="#f6f6f6" stroke="#888" stroke-width="2" stroke-opacity="0.8"/>
<rect x="1243.5" y="2509.4" width="17.1" height="17.1" fill="#f6f6f6" stroke="#888" stroke-width="2" stroke-opacity="0.8"/>
<rect x="1280" y="2618.2" width="17.1" height="17.1" fill="#f6f6f6" stroke="#888" stroke-width="2" stroke-opacity="0.8"/>
<rect x="1320" y="2735" width="17.1" height="17.1" fill="#f6f6f6" stroke="#888" stroke-width="2" stroke-opacity="0.8"/>
<rect x="1354" y="2845.4" width="17.1" height="17.1" fill="#f6f6f6" stroke="#888" stroke-width="2" stroke-opacity="0.8"/>
<rect x="1396.5" y="2968.9" width="17.1" height="17.1" fill="#f6f6f6" stroke="#888" stroke-width="2" stroke-opacity="0.8"/>
<rect x="1433.5" y="1817.2" width="17.1" height="17.1" fill="#f6f6f6" stroke="#888" stroke-width="2" stroke-opacity="0.8"/>
<rect x="1471.9" y="1927.9" width="17.1" height="17.1" fill="#f6f6f6" stroke="#888" stroke-width="2" stroke-opacity="0.8"/>
<rect x="1510" y="2032.5" width="17.1" height="17.1" fill="#f6f6f6" stroke="#888" stroke-width="2" stroke-opacity="0.8"/>
<rect x="1549.4" y="2130.4" width="17.1" height="17.1" fill="#f6f6f6" stroke="#888" stroke-width="2" stroke-opacity="0.8"/>
<rect x="1587.2" y="2224.3" width="17.1" height="17.1" fill="#f6f6f6" stroke="#888" stroke-width="2" stroke-opacity="0.8"/>
<rect x="1626.5" y="2315.4" width="17.1" height="17.1" fill="#f6f6f6" stroke="#888" stroke-width="2" stroke-opacity="0.8"/>
<rect x="1664.5" y="2401.4" width="17.1" height="17.1" fill="#f6f6f6" stroke="#888" stroke-width="2" stroke-opacity="0.8"/>
<rect x="1704" y="2486" width="17.1" height="17.1" fill="#f6f6f6" stroke="#888" stroke-width="2" stroke-opacity="0.8"/>
<rect x="1739" y="2570.4" width="17.1" height="17.1" fill="#f6f6f6" stroke="#888" stroke-width="2" stroke-opacity="0.8"/>
<rect x="1775.5" y="2657.9" width="17.1" height="17.1" fill="#f6f6f6" stroke="#888" stroke-width="2" stroke-opacity="0.8"/>
<rect x="1810.5" y="2751.4" width="17.1" height="17.1" fill="#f6f6f6" stroke="#888" stroke-width="2" stroke-opacity="0.8"/>
<rect x="2042" y="2577.4" width="17.1" height="17.1" fill="#f6f6f6" stroke="#888" stroke-width="2" stroke-opacity="0.8"/>
<path d="M362,2472.8 C362.5,2473.8 355.3,2458.8 365,2479 C374.7,2499.2 401.4,2555.2 420,2594 C438.6,2632.8 457.6,2672.2 476.5,2711.8 C495.4,2751.4 515.6,2793.7 533.6,2831.8 C551.6,2869.9 570.4,2909.1 584.3,2940.4 C598.2,2971.7 611.6,3006.2 617.1,3019.4" fill="none" stroke="#ff0000" stroke-width="9.6" stroke-linejoin="round" />
<path d="M793,2211 C798.9,2236.1 816.4,2306.6 828.6,2361.4 C840.8,2416.2 853.7,2486.2 866.4,2540 C879.1,2593.8 891.3,2633.2 904.6,2684 C917.9,2734.8 931.6,2789.2 946,2845 C960.4,2900.8 983.5,2990 991,3019" fill="none" stroke="#ff0000" stroke-width="9.6" stroke-linejoin="round" />
<path d="M992.8,3022 L992.8,1748.3" fill="none" stroke="#ff0000" stroke-width="9.6" stroke-linejoin="round" />
<path d="M993,1756 C1003.8,1789.4 1034,1884.2 1057.5,1956.4 C1081,2028.6 1108.5,2112.4 1134,2189 C1159.5,2265.6 1185.5,2340.1 1210.7,2416 C1235.9,2491.9 1260,2568.6 1285,2644.6 C1310,2720.6 1340.9,2809.6 1360.7,2872 C1380.5,2934.4 1396.8,2994.5 1404,3019" fill="none" stroke="#ff0000" stroke-width="9.6" stroke-linejoin="round" />
<path d="M1405.5,3022 L1405.5,1748.3" fill="none" stroke="#ff0000" stroke-width="9.6" stroke-linejoin="round" />
<path d="M1406,1756 C1411.4,1771.5 1420.3,1798.2 1438.6,1849 C1456.9,1899.8 1490.2,1993.9 1516,2060.7 C1541.8,2127.5 1567.8,2189.6 1593.6,2250 C1619.4,2310.4 1650.5,2380.5 1670.7,2423 C1690.9,2465.5 1703.8,2484.7 1715,2505 C1726.2,2525.3 1732.8,2538.2 1738,2545 C1743.2,2551.8 1743.2,2556.8 1746,2546 C1748.8,2535.2 1752.3,2499.3 1755,2480 C1757.7,2460.7 1759.6,2442 1762,2430 C1764.4,2418 1767.3,2408 1769.6,2408 C1771.9,2408 1773.9,2418 1776,2430 C1778.1,2442 1780.3,2461.7 1782,2480 C1783.7,2498.3 1784.7,2526.8 1786,2540 C1787.3,2553.2 1787.6,2542.6 1790,2559 C1792.4,2575.4 1795.7,2612.2 1800.5,2638.7 C1805.3,2665.2 1814.6,2702.1 1819,2718 C1823.4,2733.9 1822.7,2720.3 1827,2734 C1831.3,2747.7 1839.2,2772.3 1845,2800 C1850.8,2827.7 1856.8,2863.5 1862,2900 C1867.2,2936.5 1873.7,2999.2 1876,3019" fill="none" stroke="#ff0000" stroke-width="9.6" stroke-linejoin="round" />
<path d="M1877,3022 L1877,1748.3" fill="none" stroke="#ff0000" stroke-width="9.6" stroke-linejoin="round" />
<path d="M1880,1756 C1885.2,1816.7 1904.3,2050.2 1911,2120 C1917.7,2189.8 1915,2156.3 1920,2175 C1925,2193.7 1934.2,2212 1941,2232 C1947.8,2252 1954.5,2275.3 1961,2295 C1967.5,2314.7 1973.7,2332.5 1980,2350 C1986.3,2367.5 1992,2383 1999,2400 C2006,2417 2016.2,2435.3 2022,2452 C2027.8,2468.7 2031.2,2485.3 2034,2500 C2036.8,2514.7 2037.8,2523.3 2039,2540 C2040.2,2556.7 2040.7,2590 2041,2600" fill="none" stroke="#ff0000" stroke-width="9.6" stroke-linejoin="round" />
<path d="M2041.8,3022 L2041.8,1778 L2043.8,1778 L2059,1851 L2066,1900" fill="none" stroke="#ff0000" stroke-width="9.6" stroke-linejoin="round" />
<path d="M2038.5,2540 L2038.5,3022" fill="none" stroke="#ff0000" stroke-width="9.6" stroke-linejoin="round" />
<circle cx="440" cy="2632" r="10.5" fill="#fff0f0" stroke="#ff6060" stroke-width="1.5" stroke-opacity="0.9"/>
<circle cx="517" cy="2790" r="10.5" fill="#fff0f0" stroke="#ff6060" stroke-width="1.5" stroke-opacity="0.9"/>
<circle cx="828.6" cy="2361.4" r="10.5" fill="#fff0f0" stroke="#ff6060" stroke-width="1.5" stroke-opacity="0.9"/>
<circle cx="904.6" cy="2684" r="10.5" fill="#fff0f0" stroke="#ff6060" stroke-width="1.5" stroke-opacity="0.9"/>
<circle cx="1057.5" cy="1956.4" r="10.5" fill="#fff0f0" stroke="#ff6060" stroke-width="1.5" stroke-opacity="0.9"/>
<circle cx="1134" cy="2189" r="10.5" fill="#fff0f0" stroke="#ff6060" stroke-width="1.5" stroke-opacity="0.9"/>
<circle cx="1210.7" cy="2416" r="10.5" fill="#fff0f0" stroke="#ff6060" stroke-width="1.5" stroke-opacity="0.9"/>
<circle cx="1285" cy="2644.6" r="10.5" fill="#fff0f0" stroke="#ff6060" stroke-width="1.5" stroke-opacity="0.9"/>
<circle cx="1360.7" cy="2872" r="10.5" fill="#fff0f0" stroke="#ff6060" stroke-width="1.5" stroke-opacity="0.9"/>
<circle cx="1438.6" cy="1849" r="10.5" fill="#fff0f0" stroke="#ff6060" stroke-width="1.5" stroke-opacity="0.9"/>
<circle cx="1516" cy="2060.7" r="10.5" fill="#fff0f0" stroke="#ff6060" stroke-width="1.5" stroke-opacity="0.9"/>
<circle cx="1593.6" cy="2250" r="10.5" fill="#fff0f0" stroke="#ff6060" stroke-width="1.5" stroke-opacity="0.9"/>
<circle cx="1670.7" cy="2423" r="10.5" fill="#fff0f0" stroke="#ff6060" stroke-width="1.5" stroke-opacity="0.9"/>
<circle cx="1742" cy="2546" r="10.5" fill="#fff0f0" stroke="#ff6060" stroke-width="1.5" stroke-opacity="0.9"/>
<circle cx="1827" cy="2734" r="10.5" fill="#fff0f0" stroke="#ff6060" stroke-width="1.5" stroke-opacity="0.9"/>
<circle cx="2052" cy="1831" r="10.5" fill="#fff0f0" stroke="#ff6060" stroke-width="1.5" stroke-opacity="0.9"/>
<path d="M362.4,2473.2 C362.9,2474.2 355.7,2459.2 365.4,2479.4 C375.1,2499.6 401.8,2555.6 420.4,2594.4 C439,2633.2 458,2672.6 476.9,2712.2 C495.8,2751.8 516,2794.1 534,2832.2 C552,2870.3 570.8,2909.5 584.7,2940.8 C598.6,2972.1 612,3006.6 617.5,3019.8" fill="none" stroke="#0000ff" stroke-width="9.6" stroke-linejoin="round" />
<path d="M618.3,3022 L618.3,1748.3" fill="none" stroke="#0000ff" stroke-width="5" stroke-linejoin="round" />
<path d="M790,2211 C796,2239.2 813.3,2321.8 826,2380 C838.7,2438.2 852.7,2505 866,2560 C879.3,2615 893,2659.9 906,2710 C919,2760.1 931,2809.2 944,2860.7 C957,2912.2 977.3,2992.6 984,3019" fill="none" stroke="#0000ff" stroke-width="9.6" stroke-linejoin="round" />
<path d="M986,3022 L986,1748.3" fill="none" stroke="#0000ff" stroke-width="9.6" stroke-linejoin="round" />
<path d="M988,1756 C989.8,1761.8 987.4,1753.7 999,1791 C1010.6,1828.3 1038.4,1918.7 1057.5,1980 C1076.6,2041.3 1094.7,2099.4 1113.6,2159 C1132.5,2218.6 1151.6,2278 1170.7,2337.5 C1189.8,2397 1208.7,2456.5 1228,2516 C1247.3,2575.5 1267.6,2633.4 1286.8,2694.6 C1306,2755.8 1326.8,2828.9 1343,2883 C1359.2,2937.1 1377.2,2996.3 1384,3019" fill="none" stroke="#0000ff" stroke-width="9.6" stroke-linejoin="round" />
<path d="M1386.3,3022 L1386.3,1748.3" fill="none" stroke="#0000ff" stroke-width="9.6" stroke-linejoin="round" />
<path d="M1387,1756 C1389.3,1761.8 1388.6,1758.4 1400.7,1791 C1412.8,1823.6 1440.1,1900.6 1459.6,1951.8 C1479.1,2003 1498.7,2050.8 1517.9,2098 C1537.1,2145.2 1556,2191.3 1575,2235 C1594,2278.7 1612.8,2319.5 1632,2360 C1651.2,2400.5 1673.7,2447.2 1690,2478 C1706.3,2508.8 1720.7,2531 1730,2545 C1739.3,2559 1742.2,2561.8 1746,2562 C1749.8,2562.2 1751,2553 1753,2546 C1755,2539 1756.2,2534.8 1758,2520 C1759.8,2505.2 1761.5,2482.3 1764,2457 C1766.5,2431.7 1770.6,2390.7 1773,2368 C1775.4,2345.3 1776.2,2332.3 1778.6,2321 C1781,2309.7 1784.5,2301.2 1787.5,2300 C1790.5,2298.8 1793.8,2306 1796.4,2314 C1799,2322 1800.6,2333.1 1803,2348 C1805.4,2362.9 1807.9,2382.4 1810.7,2403.6 C1813.5,2424.8 1816.9,2452.3 1819.6,2475 C1822.3,2497.7 1824.7,2521.5 1826.8,2540 C1828.9,2558.5 1828.9,2560.7 1832,2586 C1835.1,2611.3 1841.5,2655.9 1845.5,2691.6 C1849.5,2727.3 1852.2,2761.9 1856,2800 C1859.8,2838.1 1864.5,2887 1868,2920 C1871.5,2953 1875.5,2985 1877,2998" fill="none" stroke="#0000ff" stroke-width="9.6" stroke-linejoin="round" />
<path d="M1879,2998 L1879,1748.3" fill="none" stroke="#0000ff" stroke-width="9.6" stroke-linejoin="round" />
<path d="M1881,1756 C1886,1816.7 1904.8,2050.8 1911,2120 C1917.2,2189.2 1913.4,2153.2 1918,2171 C1922.6,2188.8 1932.1,2207.1 1938.7,2227 C1945.3,2246.9 1951.6,2270.6 1957.8,2290.5 C1964,2310.4 1970.2,2329 1975.8,2346.6 C1981.4,2364.2 1985.4,2378.9 1991.6,2396 C1997.8,2413.1 2006.4,2431.7 2012.8,2449 C2019.2,2466.3 2023.5,2481.5 2029.7,2500 C2035.9,2518.5 2044.6,2540 2050,2560 C2055.4,2580 2060,2610 2062,2620" fill="none" stroke="#0000ff" stroke-width="9.6" stroke-linejoin="round" />
<path d="M2064.5,2998 L2064.5,1795" fill="none" stroke="#0000ff" stroke-width="13" stroke-linejoin="round" />
<path d="M824.3,2374.7 L835.8,2396 L812.8,2396 Z" fill="#f0f0ff" stroke="#7070ff" stroke-width="1.5" stroke-opacity="0.9"/>
<path d="M944,2847.9 L955.5,2869.2 L932.5,2869.2 Z" fill="#f0f0ff" stroke="#7070ff" stroke-width="1.5" stroke-opacity="0.9"/>
<path d="M999,1778.2 L1010.5,1799.5 L987.5,1799.5 Z" fill="#f0f0ff" stroke="#7070ff" stroke-width="1.5" stroke-opacity="0.9"/>
<path d="M1057.5,1967.2 L1069,1988.5 L1046,1988.5 Z" fill="#f0f0ff" stroke="#7070ff" stroke-width="1.5" stroke-opacity="0.9"/>
<path d="M1113.6,2146.2 L1125.1,2167.5 L1102,2167.5 Z" fill="#f0f0ff" stroke="#7070ff" stroke-width="1.5" stroke-opacity="0.9"/>
<path d="M1170.7,2324.7 L1182.2,2346 L1159.2,2346 Z" fill="#f0f0ff" stroke="#7070ff" stroke-width="1.5" stroke-opacity="0.9"/>
<path d="M1228,2503.2 L1239.5,2524.5 L1216.5,2524.5 Z" fill="#f0f0ff" stroke="#7070ff" stroke-width="1.5" stroke-opacity="0.9"/>
<path d="M1286.8,2681.8 L1298.3,2703.1 L1275.2,2703.1 Z" fill="#f0f0ff" stroke="#7070ff" stroke-width="1.5" stroke-opacity="0.9"/>
<path d="M1343,2870.2 L1354.5,2891.5 L1331.5,2891.5 Z" fill="#f0f0ff" stroke="#7070ff" stroke-width="1.5" stroke-opacity="0.9"/>
<path d="M1400.7,1778.2 L1412.2,1799.5 L1389.2,1799.5 Z" fill="#f0f0ff" stroke="#7070ff" stroke-width="1.5" stroke-opacity="0.9"/>
<path d="M1459.6,1939 L1471.1,1960.3 L1448,1960.3 Z" fill="#f0f0ff" stroke="#7070ff" stroke-width="1.5" stroke-opacity="0.9"/>
<path d="M1517.9,2085.2 L1529.5,2106.5 L1506.4,2106.5 Z" fill="#f0f0ff" stroke="#7070ff" stroke-width="1.5" stroke-opacity="0.9"/>
<path d="M1746,2553.2 L1757.5,2574.5 L1734.5,2574.5 Z" fill="#f0f0ff" stroke="#7070ff" stroke-width="1.5" stroke-opacity="0.9"/>
<path d="M1803,2335.2 L1814.5,2356.5 L1791.5,2356.5 Z" fill="#f0f0ff" stroke="#7070ff" stroke-width="1.5" stroke-opacity="0.9"/>
<path d="M1975.8,2333.8 L1987.3,2355.1 L1964.2,2355.1 Z" fill="#f0f0ff" stroke="#7070ff" stroke-width="1.5" stroke-opacity="0.9"/>
<path d="M2064.7,1834.2 L2076.2,1855.5 L2053.1,1855.5 Z" fill="#f0f0ff" stroke="#7070ff" stroke-width="1.5" stroke-opacity="0.9"/>
<path d="M2035,2487.2 L2046.5,2508.5 L2023.5,2508.5 Z" fill="#f0f0ff" stroke="#7070ff" stroke-width="1.5" stroke-opacity="0.9"/>
<path d="M363,2472.7 C363.5,2473.7 356.3,2458.7 366,2478.9 C375.7,2499.1 402.4,2555.1 421,2593.9 C439.6,2632.7 458.6,2672.1 477.5,2711.7 C496.4,2751.3 516.6,2793.6 534.6,2831.7 C552.6,2869.8 571.4,2909 585.3,2940.3 C599.2,2971.6 612.6,3006.1 618.1,3019.3" fill="none" stroke="#868686" stroke-width="9.6" stroke-linejoin="round" />
<path d="M789,2211 C795.8,2239.5 818.1,2330.5 829.6,2382 C841.1,2433.5 848.8,2476.5 858,2520 C867.2,2563.5 871.3,2583.8 885,2643 C898.7,2702.2 924.7,2812.3 940,2875 C955.3,2937.7 970.8,2995 977,3019" fill="none" stroke="#868686" stroke-width="9.6" stroke-linejoin="round" />
<path d="M979,3022 L979,1748.3" fill="none" stroke="#868686" stroke-width="9.6" stroke-linejoin="round" />
<path d="M980.7,1756 C983.7,1765.7 986.4,1772.7 998.6,1814 C1010.8,1855.3 1035.1,1940.8 1054,2003.6 C1072.9,2066.4 1092.6,2128.5 1111.8,2191 C1131,2253.5 1150,2316.1 1169,2378.6 C1188,2441.1 1206.4,2502.9 1226,2566 C1245.6,2629.1 1267.3,2695 1286.8,2757 C1306.3,2819 1329.4,2894.3 1342.9,2938 C1356.4,2981.7 1363.8,3005.5 1368,3019" fill="none" stroke="#868686" stroke-width="9.6" stroke-linejoin="round" />
<path d="M1371,3022 L1371,1748.3" fill="none" stroke="#868686" stroke-width="9.6" stroke-linejoin="round" />
<path d="M1371.5,1756 C1376.3,1769.3 1385.9,1797.4 1400.5,1835.7 C1415.1,1874 1439.8,1939 1459,1985.7 C1478.2,2032.4 1496.8,2071.9 1515.5,2116 C1534.2,2160.1 1551.8,2206.7 1571,2250 C1590.2,2293.3 1611.4,2335.7 1631,2376 C1650.6,2416.3 1670.3,2456.7 1688.5,2492 C1706.7,2527.3 1728.4,2568 1740,2588 C1751.6,2608 1751.9,2605.3 1758,2612 C1764.1,2618.7 1770.9,2630.2 1776.7,2628 C1782.5,2625.8 1788.1,2611.3 1792.6,2599 C1797.1,2586.7 1800.2,2573.8 1803.7,2554 C1807.2,2534.2 1810.9,2498.2 1813.8,2480 C1816.7,2461.8 1818.5,2453.3 1821,2445 C1823.5,2436.7 1826.3,2430 1829,2430 C1831.7,2430 1834.2,2435 1837,2445 C1839.8,2455 1842.3,2471 1845.5,2490 C1848.7,2509 1853.6,2539 1856,2559 C1858.4,2579 1858.5,2592.3 1860,2610 C1861.5,2627.7 1863,2640 1865,2665 C1867,2690 1869.5,2720.8 1872,2760 C1874.5,2799.2 1878,2860.3 1880,2900 C1882,2939.7 1883.3,2981.7 1884,2998" fill="none" stroke="#868686" stroke-width="9.6" stroke-linejoin="round" />
<path d="M1884.8,2998 L1884.8,1748.3" fill="none" stroke="#868686" stroke-width="9.6" stroke-linejoin="round" />
<path d="M1886,1756 C1888,1785 1893.8,1869.3 1898,1930 C1902.2,1990.7 1907.6,2079.8 1911,2120 C1914.4,2160.2 1915.8,2153.2 1918.6,2171 C1921.4,2188.8 1924.3,2203.6 1928,2227 C1931.7,2250.4 1936.5,2283.4 1940.8,2311.6 C1945,2339.8 1950,2364.6 1953.5,2396 C1957,2427.4 1959.4,2457.7 1962,2500 C1964.6,2542.3 1966.8,2600 1969,2650 C1971.2,2700 1972.5,2761.7 1975,2800 C1977.5,2838.3 1980,2849.2 1984,2880 C1988,2910.8 1995.8,2961.8 1999,2985 C2002.2,3008.2 2002.3,3013.3 2003,3019" fill="none" stroke="#868686" stroke-width="9.6" stroke-linejoin="round" />
<path d="M2002,3022 L2002,1748.3" fill="none" stroke="#868686" stroke-width="9.6" stroke-linejoin="round" />
<path d="M2004,1756 L2010.7,1780 L2037,1927.4 L2063.6,2120 L2066,2170" fill="none" stroke="#868686" stroke-width="9.6" stroke-linejoin="round" />
<path d="M2072.8,1795 L2072.8,2290" fill="none" stroke="#868686" stroke-width="4.4" stroke-linejoin="round" />
<rect x="819.1" y="2371.5" width="21" height="21" fill="#868686" stroke="#868686" stroke-width="0" stroke-opacity="1"/>
<rect x="874.5" y="2632.5" width="21" height="21" fill="#868686" stroke="#868686" stroke-width="0" stroke-opacity="1"/>
<rect x="929.5" y="2864.5" width="21" height="21" fill="#868686" stroke="#868686" stroke-width="0" stroke-opacity="1"/>
<rect x="988.1" y="1803.5" width="21" height="21" fill="#868686" stroke="#868686" stroke-width="0" stroke-opacity="1"/>
<rect x="1043.5" y="1993.1" width="21" height="21" fill="#868686" stroke="#868686" stroke-width="0" stroke-opacity="1"/>
<rect x="1101.3" y="2180.5" width="21" height="21" fill="#868686" stroke="#868686" stroke-width="0" stroke-opacity="1"/>
<rect x="1158.5" y="2368.1" width="21" height="21" fill="#868686" stroke="#868686" stroke-width="0" stroke-opacity="1"/>
<rect x="1215.5" y="2555.5" width="21" height="21" fill="#868686" stroke="#868686" stroke-width="0" stroke-opacity="1"/>
<rect x="1276.3" y="2746.5" width="21" height="21" fill="#868686" stroke="#868686" stroke-width="0" stroke-opacity="1"/>
<rect x="1332.4" y="2927.5" width="21" height="21" fill="#868686" stroke="#868686" stroke-width="0" stroke-opacity="1"/>
<rect x="1391.3" y="1825.2" width="21" height="21" fill="#868686" stroke="#868686" stroke-width="0" stroke-opacity="1"/>
<rect x="1450.2" y="1975.2" width="21" height="21" fill="#868686" stroke="#868686" stroke-width="0" stroke-opacity="1"/>
<rect x="1509.1" y="2105.5" width="21" height="21" fill="#868686" stroke="#868686" stroke-width="0" stroke-opacity="1"/>
<rect x="1793.2" y="2543.5" width="21" height="21" fill="#868686" stroke="#868686" stroke-width="0" stroke-opacity="1"/>
<rect x="1847.7" y="2591.2" width="21" height="21" fill="#868686" stroke="#868686" stroke-width="0" stroke-opacity="1"/>
<rect x="1908.1" y="2160.5" width="21" height="21" fill="#868686" stroke="#868686" stroke-width="0" stroke-opacity="1"/>
<rect x="1966" y="2798.5" width="21" height="21" fill="#868686" stroke="#868686" stroke-width="0" stroke-opacity="1"/>
<rect x="2026.5" y="1916.9" width="21" height="21" fill="#868686" stroke="#868686" stroke-width="0" stroke-opacity="1"/>
<path d="M363.4,2472.4 C363.9,2473.4 356.7,2458.4 366.4,2478.6 C376.1,2498.8 402.8,2554.8 421.4,2593.6 C440,2632.4 459,2671.8 477.9,2711.4 C496.8,2751 517,2793.3 535,2831.4 C553,2869.5 571.8,2908.7 585.7,2940 C599.6,2971.3 613,3005.8 618.5,3019" fill="none" stroke="#ff00ff" stroke-width="9.6" stroke-linejoin="round" />
<path d="M621.6,3022 L621.6,1748.3" fill="none" stroke="#ff00ff" stroke-width="9.6" stroke-linejoin="round" />
<path d="M782,2211 C789,2244 813.1,2356.7 824.3,2409 C835.5,2461.3 839.5,2478.9 849,2525 C858.5,2571.1 866.5,2619.7 881.4,2685.7 C896.3,2751.7 924.8,2865.4 938.6,2921 C952.4,2976.6 959.8,3002.7 964,3019" fill="none" stroke="#ff00ff" stroke-width="9.6" stroke-linejoin="round" />
<path d="M966,3022 L966,1748.3" fill="none" stroke="#ff00ff" stroke-width="9.6" stroke-linejoin="round" />
<path d="M968,1756 C972.8,1773.2 982.5,1809.3 996.8,1859 C1011.1,1908.7 1034.8,1989.4 1054,2054 C1073.2,2118.6 1092.6,2182.2 1111.8,2246.4 C1131,2310.6 1150,2374.4 1169,2439 C1188,2503.6 1206.7,2571.2 1226,2634 C1245.3,2696.8 1265.7,2757.7 1285,2816 C1304.3,2874.3 1330.8,2950.2 1342,2984 C1353.2,3017.8 1350.3,3013.2 1352,3019" fill="none" stroke="#ff00ff" stroke-width="9.6" stroke-linejoin="round" />
<path d="M1355.6,3022 L1355.6,1748.3" fill="none" stroke="#ff00ff" stroke-width="9.6" stroke-linejoin="round" />
<path d="M1356,1756 C1363.5,1774.7 1383.9,1825.9 1400.7,1867.9 C1417.5,1909.9 1438.1,1963.1 1457,2007.9 C1475.9,2052.8 1494.8,2094.6 1514,2137 C1533.2,2179.4 1553.1,2222 1572.5,2262.5 C1591.9,2303 1611.2,2341.3 1630.4,2380 C1649.6,2418.7 1668.4,2457.6 1687.5,2494.6 C1706.6,2531.6 1725.9,2567.2 1745,2602 C1764.1,2636.8 1788.3,2677.2 1802,2703.5 C1815.7,2729.8 1820.2,2740.6 1827,2760 C1833.8,2779.4 1837.5,2794.5 1843,2820 C1848.5,2845.5 1855.7,2879.8 1860,2913 C1864.3,2946.2 1867.5,3001.3 1869,3019" fill="none" stroke="#ff00ff" stroke-width="9.6" stroke-linejoin="round" />
<path d="M1872,3022 L1872,1773" fill="none" stroke="#ff00ff" stroke-width="10.6" stroke-linejoin="round" />
<path d="M1874,1780 C1875,1800 1877.5,1846.7 1880,1900 C1882.5,1953.3 1886,2033.3 1889,2100 C1892,2166.7 1895,2233.3 1898,2300 C1901,2366.7 1903.8,2443.9 1907,2500 C1910.2,2556.1 1911.9,2586.6 1917.5,2636.6 C1923.1,2686.6 1931.1,2750.3 1940.7,2800 C1950.3,2849.7 1964.8,2898.1 1975,2934.6 C1985.2,2971.1 1997.2,3004.9 2001.6,3019" fill="none" stroke="#ff00ff" stroke-width="9.6" stroke-linejoin="round" />
<path d="M2006,3022 L2006,1748.3 L2008.6,1756 L2019,1792 L2025.5,1771 L2026.5,2470" fill="none" stroke="#ff00ff" stroke-width="9.6" stroke-linejoin="round" />
<path d="M2026.5,2440 C2027.8,2448.3 2030.1,2474.2 2034,2490 C2037.9,2505.8 2044.6,2521.7 2050,2535 C2055.4,2548.3 2063.7,2564.2 2066.4,2570" fill="none" stroke="#ff00ff" stroke-width="9.6" stroke-linejoin="round" />
<circle cx="366.4" cy="2478.6" r="10.9" fill="#fff0ff" stroke="#ff60ff" stroke-width="1.5" stroke-opacity="0.9"/>
<circle cx="421.4" cy="2593.6" r="10.9" fill="#fff0ff" stroke="#ff60ff" stroke-width="1.5" stroke-opacity="0.9"/>
<circle cx="477.9" cy="2711.4" r="10.9" fill="#fff0ff" stroke="#ff60ff" stroke-width="1.5" stroke-opacity="0.9"/>
<circle cx="535" cy="2831.4" r="10.9" fill="#fff0ff" stroke="#ff60ff" stroke-width="1.5" stroke-opacity="0.9"/>
<circle cx="594" cy="2958" r="10.9" fill="#fff0ff" stroke="#ff60ff" stroke-width="1.5" stroke-opacity="0.9"/>
<circle cx="824.3" cy="2409" r="10.9" fill="#fff0ff" stroke="#ff60ff" stroke-width="1.5" stroke-opacity="0.9"/>
<circle cx="881.4" cy="2685.7" r="10.9" fill="#fff0ff" stroke="#ff60ff" stroke-width="1.5" stroke-opacity="0.9"/>
<circle cx="938.6" cy="2921" r="10.9" fill="#fff0ff" stroke="#ff60ff" stroke-width="1.5" stroke-opacity="0.9"/>
<circle cx="996.8" cy="1859" r="10.9" fill="#fff0ff" stroke="#ff60ff" stroke-width="1.5" stroke-opacity="0.9"/>
<circle cx="1054" cy="2054" r="10.9" fill="#fff0ff" stroke="#ff60ff" stroke-width="1.5" stroke-opacity="0.9"/>
<circle cx="1111.8" cy="2246.4" r="10.9" fill="#fff0ff" stroke="#ff60ff" stroke-width="1.5" stroke-opacity="0.9"/>
<circle cx="1169" cy="2439" r="10.9" fill="#fff0ff" stroke="#ff60ff" stroke-width="1.5" stroke-opacity="0.9"/>
<circle cx="1226" cy="2634" r="10.9" fill="#fff0ff" stroke="#ff60ff" stroke-width="1.5" stroke-opacity="0.9"/>
<circle cx="1285" cy="2816" r="10.9" fill="#fff0ff" stroke="#ff60ff" stroke-width="1.5" stroke-opacity="0.9"/>
<circle cx="1342" cy="2984" r="10.9" fill="#fff0ff" stroke="#ff60ff" stroke-width="1.5" stroke-opacity="0.9"/>
<circle cx="1400.7" cy="1867.9" r="10.9" fill="#fff0ff" stroke="#ff60ff" stroke-width="1.5" stroke-opacity="0.9"/>
<circle cx="1457" cy="2007.9" r="10.9" fill="#fff0ff" stroke="#ff60ff" stroke-width="1.5" stroke-opacity="0.9"/>
<circle cx="1514" cy="2137" r="10.9" fill="#fff0ff" stroke="#ff60ff" stroke-width="1.5" stroke-opacity="0.9"/>
<circle cx="1572.5" cy="2262.5" r="10.9" fill="#fff0ff" stroke="#ff60ff" stroke-width="1.5" stroke-opacity="0.9"/>
<circle cx="1630.4" cy="2380" r="10.9" fill="#fff0ff" stroke="#ff60ff" stroke-width="1.5" stroke-opacity="0.9"/>
<circle cx="1687.5" cy="2494.6" r="10.9" fill="#fff0ff" stroke="#ff60ff" stroke-width="1.5" stroke-opacity="0.9"/>
<circle cx="1745" cy="2602" r="10.9" fill="#fff0ff" stroke="#ff60ff" stroke-width="1.5" stroke-opacity="0.9"/>
<circle cx="1802" cy="2703.5" r="10.9" fill="#fff0ff" stroke="#ff60ff" stroke-width="1.5" stroke-opacity="0.9"/>
<circle cx="1860" cy="2913" r="10.9" fill="#fff0ff" stroke="#ff60ff" stroke-width="1.5" stroke-opacity="0.9"/>
<circle cx="1917.5" cy="2636.6" r="10.9" fill="#fff0ff" stroke="#ff60ff" stroke-width="1.5" stroke-opacity="0.9"/>
<circle cx="1975" cy="2934.6" r="10.9" fill="#fff0ff" stroke="#ff60ff" stroke-width="1.5" stroke-opacity="0.9"/>
<circle cx="2034" cy="2465" r="10.9" fill="#fff0ff" stroke="#ff60ff" stroke-width="1.5" stroke-opacity="0.9"/>
<circle cx="2066.4" cy="2570" r="10.9" fill="#fff0ff" stroke="#ff60ff" stroke-width="1.5" stroke-opacity="0.9"/>
</g>
<rect x="368.4" y="1757" width="578" height="454.4" fill="#fff"/>
<rect x="470.4" y="1760.0" width="462.1" height="342.0" fill="#fff" stroke="#444" stroke-width="3.2"/>
<line x1="470.4" y1="2103.0" x2="932.5" y2="2103.0" stroke="#777" stroke-width="4"/>
<line x1="463.4" y1="2080" x2="470.4" y2="2080" stroke="#333" stroke-width="2.6"/>
<line x1="463.4" y1="1994.2" x2="470.4" y2="1994.2" stroke="#333" stroke-width="2.6"/>
<line x1="463.4" y1="1908.4" x2="470.4" y2="1908.4" stroke="#333" stroke-width="2.6"/>
<line x1="463.4" y1="1822.6" x2="470.4" y2="1822.6" stroke="#333" stroke-width="2.6"/>
<line x1="466.4" y1="2037.1" x2="470.4" y2="2037.1" stroke="#555" stroke-width="2"/>
<line x1="466.4" y1="1951.3" x2="470.4" y2="1951.3" stroke="#555" stroke-width="2"/>
<line x1="466.4" y1="1865.5" x2="470.4" y2="1865.5" stroke="#555" stroke-width="2"/>
<line x1="466.4" y1="1779.7" x2="470.4" y2="1779.7" stroke="#555" stroke-width="2"/>
<line x1="478.6" y1="2102.0" x2="478.6" y2="2110" stroke="#333" stroke-width="2.6"/>
<line x1="589.7" y1="2102.0" x2="589.7" y2="2110" stroke="#333" stroke-width="2.6"/>
<line x1="700.8" y1="2102.0" x2="700.8" y2="2110" stroke="#333" stroke-width="2.6"/>
<line x1="811.8" y1="2102.0" x2="811.8" y2="2110" stroke="#333" stroke-width="2.6"/>
<line x1="922.9" y1="2102.0" x2="922.9" y2="2110" stroke="#333" stroke-width="2.6"/>
<line x1="534.1" y1="2102.0" x2="534.1" y2="2106.5" stroke="#555" stroke-width="2"/>
<line x1="645.2" y1="2102.0" x2="645.2" y2="2106.5" stroke="#555" stroke-width="2"/>
<line x1="756.3" y1="2102.0" x2="756.3" y2="2106.5" stroke="#555" stroke-width="2"/>
<line x1="867.4" y1="2102.0" x2="867.4" y2="2106.5" stroke="#555" stroke-width="2"/>
<path d="M478.6,1788.6 L589.7,1795.4 L700.8,1860.7 L811.8,1942.9 L922.9,2069.6" fill="none" stroke="#333" stroke-width="2.8" stroke-linejoin="round" />
<text transform="translate(458.4,2089.5) scale(1.0300,1)" font-size="28.5" text-anchor="end" class="b" stroke="#000" stroke-width="1">40</text>
<text transform="translate(458.4,2003.7) scale(1.0300,1)" font-size="28.5" text-anchor="end" class="b" stroke="#000" stroke-width="1">50</text>
<text transform="translate(458.4,1917.9) scale(1.0300,1)" font-size="28.5" text-anchor="end" class="b" stroke="#000" stroke-width="1">60</text>
<text transform="translate(458.4,1832.1) scale(1.0300,1)" font-size="28.5" text-anchor="end" class="b" stroke="#000" stroke-width="1">70</text>
<text transform="translate(478.6,2136) scale(1.0300,1)" font-size="28.5" text-anchor="middle" class="b" stroke="#000" stroke-width="1">0</text>
<text transform="translate(589.7,2136) scale(1.0300,1)" font-size="28.5" text-anchor="middle" class="b" stroke="#000" stroke-width="1">10</text>
<text transform="translate(700.8,2136) scale(1.0300,1)" font-size="28.5" text-anchor="middle" class="b" stroke="#000" stroke-width="1">20</text>
<text transform="translate(811.8,2136) scale(1.0300,1)" font-size="28.5" text-anchor="middle" class="b" stroke="#000" stroke-width="1">30</text>
<text transform="translate(922.9,2136) scale(1.0300,1)" font-size="28.5" text-anchor="middle" class="b" stroke="#000" stroke-width="1">40</text>
<text transform="translate(410.3,1922.7) rotate(-90) scale(0.9750,1)" font-size="40" text-anchor="middle" class="b" stroke="#000" stroke-width="0.7">Phase (deg)</text>
<text transform="translate(700.5,2172) scale(1.1000,1)" font-size="38" text-anchor="middle" ><tspan class="i b">d</tspan><tspan font-size="22" dy="8">2</tspan><tspan dy="-8">(µm)</tspan></text>
<line x1="378" y1="2450" x2="609" y2="2450" stroke="#000" stroke-width="9.4"/>
<rect x="484.2" y="2440.6" width="18.9" height="18.9" fill="#f6f6f6" stroke="#888" stroke-width="2" stroke-opacity="0.8"/>
<line x1="378" y1="2572.5" x2="609" y2="2572.5" stroke="#ff0000" stroke-width="9.4"/>
<circle cx="493.6" cy="2572.5" r="10.5" fill="#fff0f0" stroke="#ff6060" stroke-width="1.5" stroke-opacity="0.9"/>
<line x1="378" y1="2695.4" x2="609" y2="2695.4" stroke="#0000ff" stroke-width="9.4"/>
<path d="M493.6,2682.6 L505.2,2703.9 L482.1,2703.9 Z" fill="#f0f0ff" stroke="#7070ff" stroke-width="1.5" stroke-opacity="0.9"/>
<line x1="378" y1="2817.7" x2="609" y2="2817.7" stroke="#868686" stroke-width="9.4"/>
<rect x="483.1" y="2807.2" width="21" height="21" fill="#868686" stroke="#868686" stroke-width="0" stroke-opacity="1"/>
<line x1="378" y1="2940" x2="609" y2="2940" stroke="#ff00ff" stroke-width="9.4"/>
<circle cx="493.6" cy="2940" r="10.9" fill="#fff0ff" stroke="#ff60ff" stroke-width="1.5" stroke-opacity="0.9"/>
<text transform="translate(626,2483)" font-size="85" text-anchor="start" >0 <tspan dx="4">µm</tspan></text>
<text transform="translate(626,2605.4)" font-size="85" text-anchor="start" >10 <tspan dx="3">µm</tspan></text>
<text transform="translate(626,2728.4)" font-size="85" text-anchor="start" >20 <tspan dx="3">µm</tspan></text>
<text transform="translate(626,2850.6)" font-size="85" text-anchor="start" >30 <tspan dx="3">µm</tspan></text>
<text transform="translate(626,2972.4)" font-size="85" text-anchor="start" >40 <tspan dx="3">µm</tspan></text>
<text transform="translate(320,1775.9) scale(0.9650,1)" font-size="84" text-anchor="end" class="b" >180</text>
<text transform="translate(320,2092.9) scale(0.9650,1)" font-size="84" text-anchor="end" class="b" >90</text>
<text transform="translate(320,2409.8) scale(0.9650,1)" font-size="84" text-anchor="end" class="b" >0</text>
<text transform="translate(320,2726.7) scale(0.9650,1)" font-size="84" text-anchor="end" class="b" >-90</text>
<text transform="translate(320,3043.6) scale(0.9650,1)" font-size="84" text-anchor="end" class="b" >-180</text>
<text transform="translate(576.6,3120.6)" font-size="83" text-anchor="middle" class="b" >0.2</text>
<text transform="translate(1003.1,3120.6)" font-size="83" text-anchor="middle" class="b" >0.4</text>
<text transform="translate(1429.7,3120.6)" font-size="83" text-anchor="middle" class="b" >0.6</text>
<text transform="translate(1856.2,3120.6)" font-size="83" text-anchor="middle" class="b" >0.8</text>
<text transform="translate(1216.5,3278.2) scale(1.0150,1)" font-size="86" text-anchor="middle" class="b" >Frequency (THz)</text>
<text transform="translate(119.3,2341.6) rotate(-90)" font-size="89" text-anchor="middle" class="b" >Phase (deg)</text>
<text transform="translate(1049,3411)" font-size="76" text-anchor="middle" >(<tspan class="b">b</tspan>)</text>
</g>
</g>
</svg>
</body></html>
